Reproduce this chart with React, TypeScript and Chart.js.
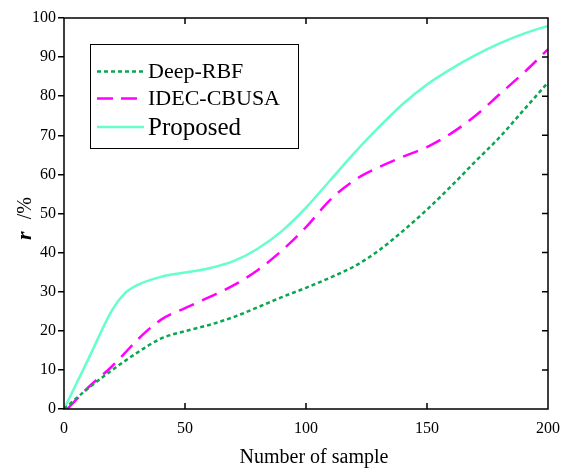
import React, { useEffect, useRef } from "react";
import { Chart, registerables } from "chart.js";

Chart.register(...registerables);

const samples = [0, 10, 20, 25, 30, 40, 50, 60, 70, 80, 90, 100, 110, 120, 130, 140, 150, 160, 170, 180, 190, 200];
const deepRBF = [0, 5.3, 10, 12.2, 14.3, 18, 19.9, 21.5, 23.5, 26, 28.6, 31, 33.6, 36.5, 40.5, 45.5, 51, 57, 63.3, 69.5, 76.5, 83.5];
const idecSamples = [1.4, 10, 20, 25, 30, 40, 50, 60, 70, 80, 90, 100, 110, 120, 130, 140, 150, 160, 170, 180, 190, 200];
const idecCBUSA = [0, 5.5, 11, 14.2, 17.5, 22.8, 25.8, 28.6, 31.6, 35.5, 40.5, 46.5, 53.5, 58.5, 61.8, 64.5, 67, 70.5, 75, 80.5, 86, 92];
const proposed = [0, 12.7, 25.4, 29.5, 31.6, 33.8, 34.9, 36, 37.8, 41, 45.5, 51.5, 58.5, 65.5, 72, 78, 83, 87, 90.5, 93.5, 96, 98];

const xTicks = [0, 50, 100, 150, 200];
const yTicks = [0, 10, 20, 30, 40, 50, 60, 70, 80, 90, 100];
const seriesNames = ["Deep-RBF", "IDEC-CBUSA", "Proposed"];

const FONT = '"Liberation Serif", "Times New Roman", serif';
const GREEN = "#0BA652";
const MAGENTA = "#FF00FF";
const CYAN = "#66FFCC";

const decorPlugin = {
  id: "decor",
  afterDraw(chart: any) {
    const ctx = chart.ctx as CanvasRenderingContext2D;
    const { left, right, top, bottom } = chart.chartArea;
    const xs = chart.scales.x;
    const ys = chart.scales.y;
    ctx.save();
    ctx.strokeStyle = "#000";
    ctx.lineWidth = 1.5;
    // frame
    ctx.beginPath();
    ctx.moveTo(left, top);
    ctx.lineTo(right, top);
    ctx.lineTo(right, bottom);
    ctx.lineTo(left, bottom);
    ctx.lineTo(left, top);
    ctx.stroke();
    // inward ticks
    ctx.beginPath();
    xTicks.forEach((v) => {
      if (v === xTicks[0] || v === xTicks[xTicks.length - 1]) return;
      const px = xs.getPixelForValue(v);
      ctx.moveTo(px, bottom);
      ctx.lineTo(px, bottom - 6);
      ctx.moveTo(px, top);
      ctx.lineTo(px, top + 6);
    });
    yTicks.forEach((v) => {
      if (v === yTicks[0] || v === yTicks[yTicks.length - 1]) return;
      const py = ys.getPixelForValue(v);
      ctx.moveTo(right, py);
      ctx.lineTo(right - 6, py);
    });
    ctx.stroke();

    // legend
    const bx = 90, by = 44, bw = 208, bh = 104;
    ctx.fillStyle = "#fff";
    ctx.fillRect(bx, by, bw, bh);
    ctx.lineWidth = 1;
    ctx.strokeStyle = "#000";
    ctx.strokeRect(bx + 0.5, by + 0.5, bw, bh);
    const entries = [
      { name: seriesNames[0], color: GREEN, dash: [4, 3], y: 71.5, size: 22 },
      { name: seriesNames[1], color: MAGENTA, dash: [16, 8], y: 98.5, size: 22 },
      { name: seriesNames[2], color: CYAN, dash: [], y: 127, size: 25 },
    ];
    entries.forEach((e) => {
      ctx.beginPath();
      ctx.strokeStyle = e.color;
      ctx.lineWidth = 2.5;
      ctx.setLineDash(e.dash);
      ctx.moveTo(97, e.y);
      ctx.lineTo(144, e.y);
      ctx.stroke();
      ctx.setLineDash([]);
      ctx.fillStyle = "#000";
      ctx.font = `${e.size}px ${FONT}`;
      ctx.textBaseline = "middle";
      ctx.textAlign = "left";
      ctx.fillText(e.name, 148, e.y + 1);
    });

    // x title
    ctx.fillStyle = "#000";
    ctx.font = `20px ${FONT}`;
    ctx.textAlign = "center";
    ctx.textBaseline = "alphabetic";
    ctx.fillText("Number of sample", 314, 463);

    // y title
    ctx.save();
    ctx.translate(31, 218.5);
    ctx.rotate(-Math.PI / 2);
    ctx.textBaseline = "alphabetic";
    ctx.textAlign = "left";
    const rFont = `italic bold 22px ${FONT}`;
    const restFont = `20px ${FONT}`;
    const gap = 12;
    ctx.font = rFont;
    const wR = ctx.measureText("r").width;
    ctx.font = restFont;
    const wRest = ctx.measureText("/%").width;
    const start = -(wR + gap + wRest) / 2;
    ctx.font = rFont;
    ctx.fillText("r", start, 0);
    ctx.font = restFont;
    ctx.fillText("/%", start + wR + gap, 0);
    ctx.restore();

    ctx.restore();
  },
};

export default function App() {
  const ref = useRef<HTMLCanvasElement | null>(null);
  useEffect(() => {
    document.body.style.margin = "0";
    if (!ref.current) return;
    const toPts = (xsArr: number[], ysArr: number[]) => xsArr.map((x, i) => ({ x, y: ysArr[i] }));
    const chart = new Chart(ref.current, {
      type: "line",
      data: {
        datasets: [
          {
            label: seriesNames[0],
            data: toPts(samples, deepRBF),
            borderColor: GREEN,
            borderWidth: 2.5,
            borderDash: [4, 3],
            pointRadius: 0,
            cubicInterpolationMode: "monotone",
            fill: false,
          },
          {
            label: seriesNames[1],
            data: toPts(idecSamples, idecCBUSA),
            borderColor: MAGENTA,
            borderWidth: 2.5,
            borderDash: [16, 9],
            pointRadius: 0,
            cubicInterpolationMode: "monotone",
            fill: false,
          },
          {
            label: seriesNames[2],
            data: toPts(samples, proposed),
            borderColor: CYAN,
            borderWidth: 2.5,
            pointRadius: 0,
            cubicInterpolationMode: "monotone",
            fill: false,
          },
        ],
      },
      options: {
        animation: false,
        responsive: false,
        layout: { padding: { left: 0, top: 18, right: 27, bottom: 0 } },
        plugins: { legend: { display: false }, tooltip: { enabled: false } },
        scales: {
          x: {
            type: "linear",
            min: 0,
            max: 200,
            afterBuildTicks: (s: any) => {
              s.ticks = xTicks.map((v) => ({ value: v }));
            },
            afterFit: (s: any) => {
              s.height = 60;
            },
            ticks: { color: "#000", font: { family: FONT, size: 16 }, padding: 10, maxRotation: 0 },
            grid: { display: true, drawOnChartArea: false, drawTicks: false },
            border: { display: false },
          },
          y: {
            type: "linear",
            min: 0,
            max: 100,
            afterBuildTicks: (s: any) => {
              s.ticks = yTicks.map((v) => ({ value: v }));
            },
            afterFit: (s: any) => {
              s.width = 64;
            },
            ticks: { color: "#000", font: { family: FONT, size: 16 }, padding: 2 },
            grid: { display: true, drawOnChartArea: false, drawTicks: true, tickLength: 6, color: "#000", lineWidth: 1.5 },
            border: { display: false },
          },
        },
      },
      plugins: [decorPlugin],
    });
    return () => chart.destroy();
  }, []);
  return (
    <div style={{ width: 575, height: 469 }}>
      <canvas ref={ref} width={575} height={469} style={{ display: "block" }} />
    </div>
  );
}
